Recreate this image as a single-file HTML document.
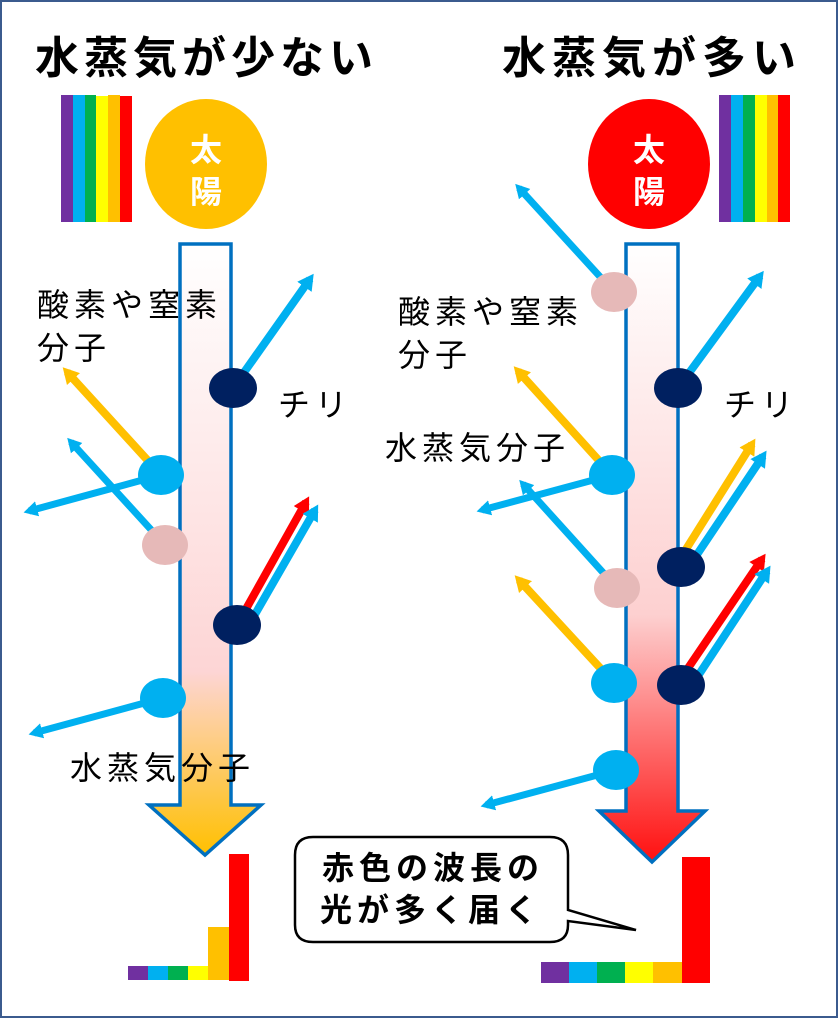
<!DOCTYPE html>
<html><head><meta charset="utf-8">
<style>
html,body{margin:0;padding:0;background:#fff;}
svg{display:block;}
text{font-family:"Liberation Sans","Noto Sans CJK JP",sans-serif;}
</style></head><body>
<svg width="838" height="1018" viewBox="0 0 838 1018" xmlns="http://www.w3.org/2000/svg">
<defs>
<linearGradient id="gl" x1="0" y1="0" x2="0" y2="1">
<stop offset="0" stop-color="#ffffff"/><stop offset="0.7" stop-color="#fdd5d5"/><stop offset="1" stop-color="#ffc000"/>
</linearGradient>
<linearGradient id="gr" x1="0" y1="0" x2="0" y2="1">
<stop offset="0" stop-color="#ffffff"/><stop offset="0.6" stop-color="#fdd0d0"/><stop offset="1" stop-color="#ff1010"/>
</linearGradient>
<marker id="hb" markerWidth="3" markerHeight="3" refX="1.2" refY="1.5" orient="auto" markerUnits="strokeWidth"><path d="M0,0.4 L2,1.5 L0,2.6 Z" fill="#00b0f0"/></marker>
<marker id="hy" markerWidth="3" markerHeight="3" refX="1.2" refY="1.5" orient="auto" markerUnits="strokeWidth"><path d="M0,0.4 L2,1.5 L0,2.6 Z" fill="#ffc000"/></marker>
<marker id="hr" markerWidth="3" markerHeight="3" refX="1.2" refY="1.5" orient="auto" markerUnits="strokeWidth"><path d="M0,0.4 L2,1.5 L0,2.6 Z" fill="#ff0000"/></marker>
</defs>
<rect x="1" y="1" width="836" height="1016" fill="#fff" stroke="#3b5b8e" stroke-width="2"/>

<text x="35" y="73" font-size="44" font-weight="bold" letter-spacing="5" fill="#000">水蒸気が少ない</text>
<text x="502" y="73" font-size="44" font-weight="bold" letter-spacing="6" fill="#000">水蒸気が多い</text>

<g>
<rect x="61" y="95" width="12" height="127" fill="#7030a0"/><rect x="73" y="95" width="12" height="127" fill="#00b0f0"/><rect x="85" y="95" width="11" height="127" fill="#00b050"/><rect x="96" y="96" width="12" height="126" fill="#ffff00"/><rect x="108" y="95" width="12" height="127" fill="#ffc000"/><rect x="120" y="96" width="12" height="126" fill="#ff0000"/>
<rect x="719" y="95" width="12" height="127" fill="#7030a0"/><rect x="731" y="95" width="12" height="127" fill="#00b0f0"/><rect x="743" y="95" width="12" height="127" fill="#00b050"/><rect x="755" y="95" width="12" height="127" fill="#ffff00"/><rect x="767" y="95" width="11" height="127" fill="#ffc000"/><rect x="778" y="95" width="12" height="127" fill="#ff0000"/>
</g>

<ellipse cx="206" cy="164" rx="61" ry="65" fill="#ffc000"/>
<text x="206" y="161" font-size="32" font-weight="bold" fill="#fff" text-anchor="middle">太</text>
<text x="206" y="203" font-size="32" font-weight="bold" fill="#fff" text-anchor="middle">陽</text>
<ellipse cx="649" cy="164" rx="61" ry="65" fill="#ff0000"/>
<text x="649" y="161" font-size="32" font-weight="bold" fill="#fff" text-anchor="middle">太</text>
<text x="649" y="203" font-size="32" font-weight="bold" fill="#fff" text-anchor="middle">陽</text>

<path d="M180,244 L231,244 L231,805 L261,805 L205,855 L149,805 L180,805 Z" fill="url(#gl)" stroke="#0070c0" stroke-width="3.5"/>
<path d="M626,244 L678,244 L678,811 L705,811 L652,862 L599,811 L626,811 Z" fill="url(#gr)" stroke="#0070c0" stroke-width="3.5"/>

<g stroke-width="8" fill="none">
<line x1="233" y1="388" x2="310" y2="279" stroke="#00b0f0" marker-end="url(#hb)"/>
<line x1="161" y1="475" x2="67" y2="372" stroke="#ffc000" marker-end="url(#hy)"/>
<line x1="161" y1="475" x2="29" y2="511" stroke="#00b0f0" marker-end="url(#hb)" stroke-width="7"/>
<line x1="165" y1="545" x2="71" y2="442" stroke="#00b0f0" marker-end="url(#hb)" stroke-width="7"/>
<line x1="237" y1="625" x2="306" y2="502" stroke="#ff0000" marker-end="url(#hr)"/>
<line x1="246" y1="630" x2="315" y2="510" stroke="#00b0f0" marker-end="url(#hb)"/>
<line x1="163" y1="698" x2="34" y2="733" stroke="#00b0f0" marker-end="url(#hb)" stroke-width="7"/>
</g>
<ellipse cx="233" cy="388" rx="24" ry="20" fill="#002060"/>
<ellipse cx="161" cy="475" rx="23" ry="20" fill="#00b0f0"/>
<ellipse cx="165" cy="545" rx="23" ry="20" fill="#e6b9b8"/>
<ellipse cx="237" cy="625" rx="24" ry="20" fill="#002060"/>
<ellipse cx="163" cy="698" rx="23" ry="20" fill="#00b0f0"/>

<g stroke-width="8" fill="none">
<line x1="614" y1="292" x2="519" y2="188" stroke="#00b0f0" marker-end="url(#hb)" stroke-width="7"/>
<line x1="678" y1="388" x2="760" y2="276" stroke="#00b0f0" marker-end="url(#hb)"/>
<line x1="612" y1="475" x2="518" y2="371" stroke="#ffc000" marker-end="url(#hy)"/>
<line x1="612" y1="475" x2="482" y2="510" stroke="#00b0f0" marker-end="url(#hb)" stroke-width="7"/>
<line x1="678" y1="562" x2="752" y2="444" stroke="#ffc000" marker-end="url(#hy)"/>
<line x1="690" y1="565" x2="763" y2="456" stroke="#00b0f0" marker-end="url(#hb)"/>
<line x1="617" y1="588" x2="523" y2="484" stroke="#00b0f0" marker-end="url(#hb)" stroke-width="7"/>
<line x1="614" y1="683" x2="519" y2="580" stroke="#ffc000" marker-end="url(#hy)"/>
<line x1="680" y1="680" x2="762" y2="559" stroke="#ff0000" marker-end="url(#hr)"/>
<line x1="692" y1="685" x2="767" y2="571" stroke="#00b0f0" marker-end="url(#hb)"/>
<line x1="616" y1="770" x2="486" y2="805" stroke="#00b0f0" marker-end="url(#hb)" stroke-width="7"/>
</g>
<ellipse cx="614" cy="292" rx="23" ry="20" fill="#e6b9b8"/>
<ellipse cx="678" cy="388" rx="24" ry="20" fill="#002060"/>
<ellipse cx="612" cy="475" rx="23" ry="20" fill="#00b0f0"/>
<ellipse cx="681" cy="567" rx="24" ry="20" fill="#002060"/>
<ellipse cx="617" cy="588" rx="23" ry="20" fill="#e6b9b8"/>
<ellipse cx="614" cy="683" rx="23" ry="20" fill="#00b0f0"/>
<ellipse cx="681" cy="685" rx="24" ry="20" fill="#002060"/>
<ellipse cx="616" cy="770" rx="23" ry="20" fill="#00b0f0"/>

<g font-size="32" fill="#000" letter-spacing="5">
<text x="37" y="316">酸素や窒素</text>
<text x="37" y="359">分子</text>
<text x="278" y="416">チリ</text>
<text x="70" y="779">水蒸気分子</text>
<text x="398" y="323">酸素や窒素</text>
<text x="398" y="366">分子</text>
<text x="724" y="416">チリ</text>
<text x="385" y="459">水蒸気分子</text>
</g>

<path d="M313,837 L550,837 Q568,837 568,855 L568,910 L636,930 L568,921 L568,925 Q568,942 550,942 L313,942 Q295,942 295,925 L295,855 Q295,837 313,837 Z" fill="#fff" stroke="#000" stroke-width="2.5"/>
<text x="433" y="879" font-size="32" font-weight="bold" letter-spacing="5" text-anchor="middle">赤色の波長の</text>
<text x="431" y="921" font-size="32" font-weight="bold" letter-spacing="5" text-anchor="middle">光が多く届く</text>

<rect x="128" y="966" width="20" height="14" fill="#7030a0"/><rect x="148" y="966" width="20" height="14" fill="#00b0f0"/><rect x="168" y="966" width="20" height="14" fill="#00b050"/><rect x="188" y="966" width="20" height="14" fill="#ffff00"/><rect x="208" y="927" width="21" height="53" fill="#ffc000"/><rect x="229" y="854" width="20" height="127" fill="#ff0000"/>
<rect x="541" y="962" width="28" height="21" fill="#7030a0"/><rect x="569" y="962" width="28" height="21" fill="#00b0f0"/><rect x="597" y="962" width="28" height="21" fill="#00b050"/><rect x="625" y="962" width="28" height="21" fill="#ffff00"/><rect x="653" y="962" width="29" height="21" fill="#ffc000"/><rect x="682" y="857" width="28" height="126" fill="#ff0000"/>
</svg>
</body></html>
